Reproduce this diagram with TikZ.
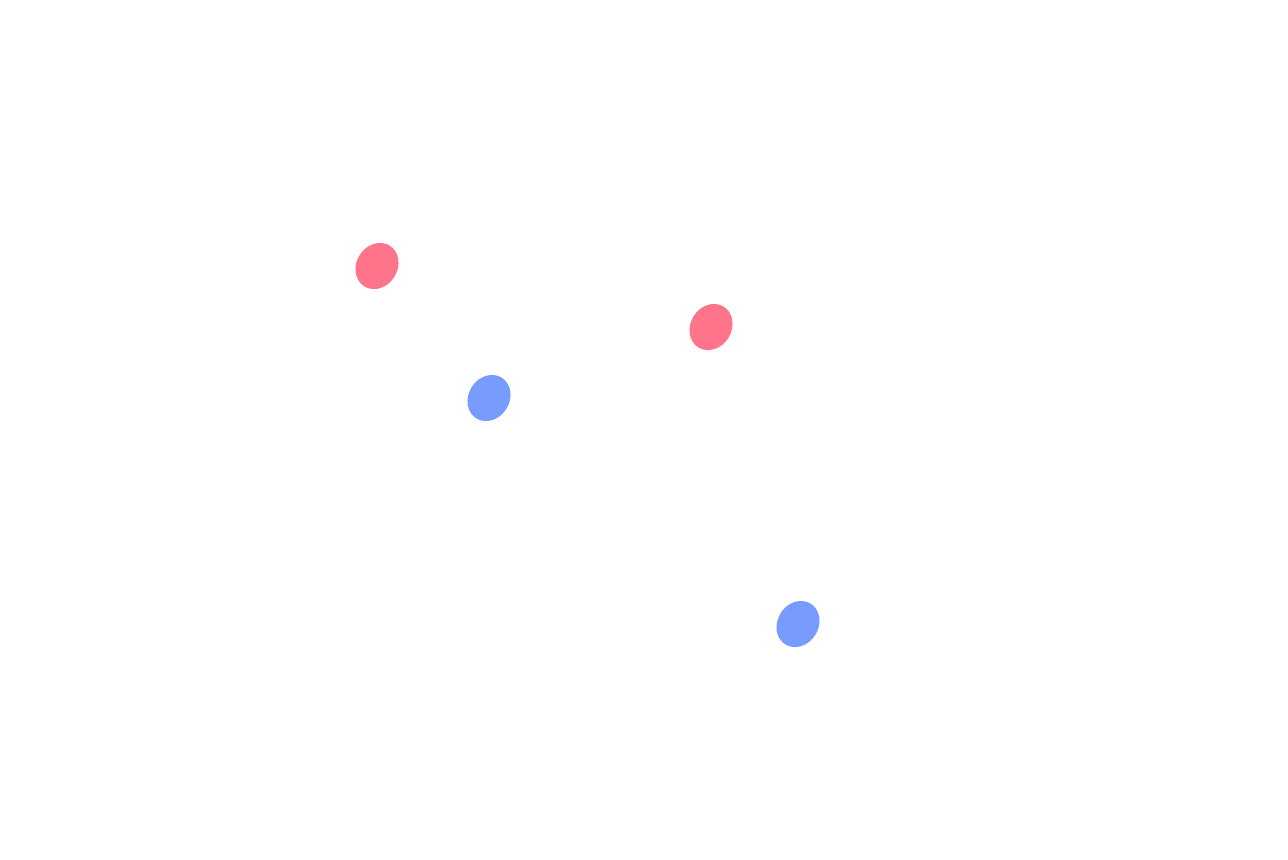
\documentclass[tikz,border=0pt]{standalone}
\usepackage{tikz}
\usetikzlibrary{shapes.geometric}
\definecolor{dotred}{HTML}{FF738B}
\definecolor{dotblue}{HTML}{779BFF}
\tikzset{
  dot/.style={ellipse,inner sep=0pt,minimum width=0.96cm,minimum height=0.82cm,rotate=58},
  reddot/.style={dot,fill=dotred},
  bluedot/.style={dot,fill=dotblue}
}
\begin{document}
\begin{tikzpicture}[x=0.02cm,y=-0.02cm]
\useasboundingbox (0,0) rectangle (1288,859);
\node[reddot](redA) at (377,266) {};
\node[reddot](redB) at (711,327) {};
\node[bluedot](blueA) at (489,398) {};
\node[bluedot](blueB) at (798,624) {};
\end{tikzpicture}
\end{document}
